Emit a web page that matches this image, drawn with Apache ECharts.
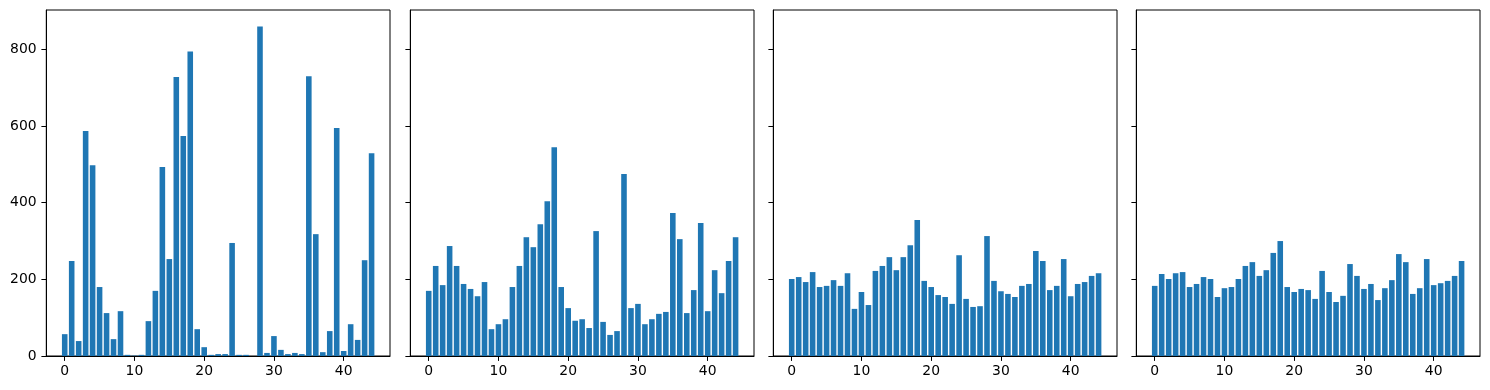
<!DOCTYPE html>
<html>
<head>
<meta charset="utf-8">
<script src="https://cdn.jsdelivr.net/npm/echarts@6/dist/echarts.min.js"></script>
<style>
html,body{margin:0;padding:0;background:#fff;}
#chart{width:1490px;height:390px;}
</style>
</head>
<body>
<div id="chart"></div>
<script>
var xTicks = [0, 10, 20, 30, 40];
var yTicks = [0, 200, 400, 600, 800];
var panel1 = [57,248,39,587,498,180,112,44,117,3,1,3,91,170,493,253,728,574,795,70,23,3,5,5,295,3,3,0,860,8,52,16,5,8,5,730,318,10,65,595,13,83,42,250,529];
var panel2 = [170,235,185,287,235,188,175,156,193,70,83,96,180,235,310,284,344,404,545,180,125,92,96,73,326,89,55,65,475,125,136,83,96,110,115,373,305,112,172,347,117,224,164,248,310];
var panel3 = [201,206,193,219,180,183,198,183,216,123,167,133,222,235,258,224,258,289,355,196,180,159,154,136,263,149,128,130,313,196,169,162,154,183,188,274,248,172,183,253,156,188,193,209,216];
var panel4 = [183,214,201,216,219,180,188,206,201,154,177,180,201,235,245,209,224,269,300,180,167,175,172,149,222,167,141,157,240,209,175,188,146,177,198,266,245,162,177,253,185,190,196,209,248];
var panels = [panel1, panel2, panel3, panel4];

var chart = echarts.init(document.getElementById('chart'), null, {renderer: 'canvas'});
var lefts = [46.3, 410.3, 773.3, 1136.3];
var W = 343.7, TOP = 10, H = 346;
var font = 'DejaVu Sans';
var grids = [], xAxes = [], yAxes = [], series = [];
panels.forEach(function (vals, k) {
  grids.push({left: lefts[k], top: TOP, width: W, height: H, show: true, borderColor: '#000', borderWidth: 1, backgroundColor: 'transparent', containLabel: false});
  xAxes.push({
    type: 'value', gridIndex: k, min: -2.64, max: 46.64,
    splitLine: {show: false},
    axisLine: {show: true, onZero: false, lineStyle: {color: '#000', width: 1}},
    axisTick: {show: true, length: 4.9, lineStyle: {color: '#000', width: 1}, customValues: xTicks},
    axisLabel: {show: true, color: '#000', fontFamily: font, fontSize: 13.9, margin: 8, customValues: xTicks}
  });
  yAxes.push({
    type: 'value', gridIndex: k, min: 0, max: 903,
    splitLine: {show: false},
    axisLine: {show: true, onZero: false, lineStyle: {color: '#000', width: 1}},
    axisTick: {show: true, length: 4.9, lineStyle: {color: '#000', width: 1}, customValues: yTicks},
    axisLabel: {show: k === 0, color: '#000', fontFamily: font, fontSize: 13.9, margin: 9.7, customValues: yTicks}
  });
  series.push({
    type: 'bar', xAxisIndex: k, yAxisIndex: k,
    data: vals.map(function (v, i) { return [i, v]; }),
    barWidth: 5.58,
    itemStyle: {color: '#1f77b4'},
    animation: false
  });
});
chart.setOption({
  animation: false,
  grid: grids, xAxis: xAxes, yAxis: yAxes, series: series
});
</script>
</body>
</html>
